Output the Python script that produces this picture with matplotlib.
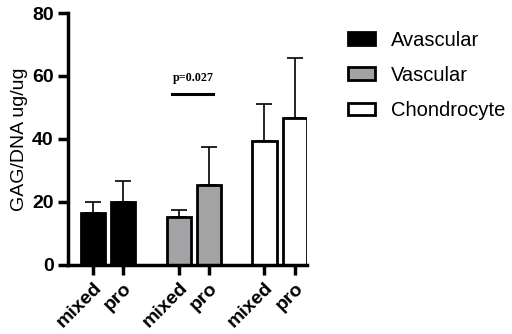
import matplotlib
matplotlib.use("Agg")
import matplotlib.pyplot as plt
import matplotlib.transforms as mtransforms
from matplotlib.patches import Patch

# Daten aus der Abbildung
groups = ["Avascular", "Vascular", "Chondrocyte"]
tick_labels = ["mixed", "pro", "mixed", "pro", "mixed", "pro"]
means = [16.5, 20.1, 15.3, 25.4, 39.4, 46.5]
err_top = [20.0, 26.5, 17.5, 37.5, 51.0, 65.8]
positions = [0, 1, 2.85, 3.85, 5.7, 6.72]
colors = ["black", "black", "#a3a3a6", "#a3a3a6", "white", "white"]
group_colors = ["black", "#a3a3a6", "white"]
p_text = "p=0.027"
p_y = 54.3

plt.rcParams["font.family"] = ["Liberation Sans", "DejaVu Sans"]

fig = plt.figure(figsize=(5.12, 3.34), dpi=100)
ax = fig.add_axes([0.133, 0.207, 0.467, 0.754])

errs = [t - m for t, m in zip(err_top, means)]
ax.bar(positions, means, width=0.8, color=colors, edgecolor="black", linewidth=2, zorder=2)
ax.errorbar(positions, means, yerr=[[0] * len(errs), errs], fmt="none",
            ecolor="black", elinewidth=1.2, capsize=5.5, capthick=1.2, zorder=1)

# Signifikanz
ax.plot([2.63, 4.0], [p_y, p_y], color="black", lw=2.2)
ax.text(3.32, p_y + 3.2, p_text, ha="center", va="bottom", fontsize=8.7,
        fontweight="bold", family="Liberation Serif")

ax.set_ylim(0, 80)
ax.set_xlim(-0.83, 7.12)
ax.set_yticks([0, 20, 40, 60, 80])
ax.set_xticks(positions)
ax.set_xticklabels(tick_labels, rotation=45, ha="right", rotation_mode="anchor",
                   fontsize=14, fontweight="bold")
shift = mtransforms.ScaledTranslation(6 / 72, 0, fig.dpi_scale_trans)
for lab in ax.get_xticklabels():
    lab.set_transform(lab.get_transform() + shift)
for lab in ax.get_yticklabels():
    lab.set_fontsize(14)
    lab.set_fontweight("bold")
ax.set_ylabel("GAG/DNA ug/ug", fontsize=14, labelpad=3)

for s in ["top", "right"]:
    ax.spines[s].set_visible(False)
for s in ["left", "bottom"]:
    ax.spines[s].set_linewidth(2.5)
ax.tick_params(axis="both", width=2.5, length=7)

handles = [Patch(facecolor=c, edgecolor="black", linewidth=2) for c in group_colors]
fig.legend(handles, groups, loc="upper left", bbox_to_anchor=(0.645, 0.962),
           frameon=False, fontsize=14.5, handlelength=1.3, handleheight=0.6,
           labelspacing=0.8, handletextpad=0.8)

fig.savefig("out.png", dpi=100)
